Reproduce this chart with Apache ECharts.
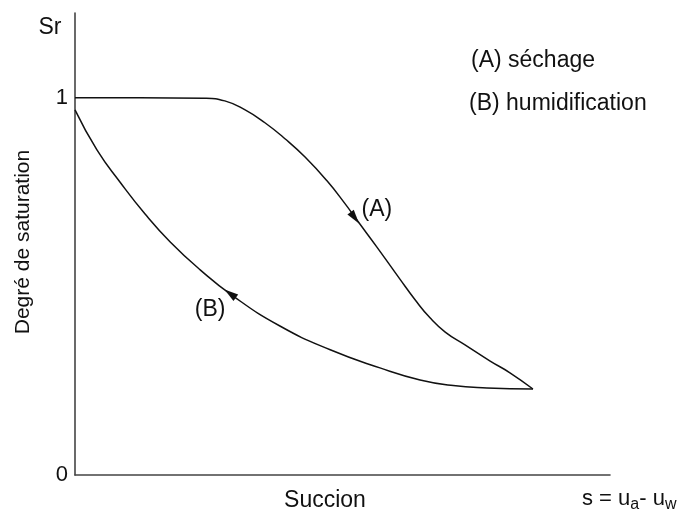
<!DOCTYPE html>
<html><head><meta charset="utf-8">
<script src="https://cdn.jsdelivr.net/npm/echarts@6/dist/echarts.min.js"></script>
<style>html,body{margin:0;padding:0;background:#fff}#c{width:683px;height:512px}</style>
</head><body><div id="c"></div>
<script>
// Curve (A) séchage (drying): suction (arbitrary units 0..10), degree of saturation
const dryS   = [0, 1.2, 2.43, 2.8, 3.18, 3.55, 3.93, 4.3, 4.71, 5.05, 5.27, 5.64, 6.07, 6.36, 6.64, 6.92, 7.29, 7.76, 8.13, 8.56];
const dryS_r = [1.0, 1.0, 0.999, 0.992, 0.968, 0.934, 0.891, 0.843, 0.780, 0.719, 0.676, 0.605, 0.520, 0.464, 0.416, 0.379, 0.345, 0.302, 0.271, 0.228];
// Curve (B) humidification (wetting)
const wetS  = [0, 0.41, 0.84, 1.31, 1.78, 2.34, 2.93, 3.83, 4.77, 5.7, 6.45, 7.07, 7.7, 8.56];
const wetSr = [0.968, 0.862, 0.777, 0.692, 0.618, 0.544, 0.477, 0.395, 0.332, 0.284, 0.252, 0.237, 0.231, 0.228];
// Arrow markers on each curve: [s, Sr]
const arrowA = [5.23, 0.682];
const arrowB = [2.90, 0.481];
const yTicks = [0, 1];
const xMax = 10, yMax = 1.225;

const FONT = '"Liberation Sans", Arial, Helvetica, sans-serif';
const chart = echarts.init(document.getElementById('c'));
const zip = (a, b) => a.map((v, i) => [v, b[i]]);
const lbl = (t, off) => ({show: true, formatter: t, position: 'inside', offset: off, fontSize: 23,
  color: '#111', opacity: 1, fontFamily: FONT, textBorderWidth: 0, textShadowBlur: 0});

chart.setOption({
  animation: false,
  grid: {left: 75, right: 73, top: 13, bottom: 37},
  xAxis: {
    type: 'value', min: 0, max: xMax,
    axisLine: {show: true, lineStyle: {color: '#444', width: 1.6}},
    axisTick: {show: false}, axisLabel: {show: false}, splitLine: {show: false}
  },
  yAxis: {
    type: 'value', min: 0, max: yMax, interval: 1,
    axisLine: {show: true, lineStyle: {color: '#444', width: 1.6}},
    axisTick: {show: false}, splitLine: {show: false},
    axisLabel: {
      margin: 7, fontSize: 22, color: '#111', fontFamily: FONT,
      showMaxLabel: false,
      formatter: v => (yTicks.indexOf(v) >= 0 ? String(v) : ''),
    }
  },
  series: [
    {type: 'line', smooth: 0.5, symbol: 'none', data: zip(dryS, dryS_r),
     lineStyle: {color: '#111', width: 1.5}},
    {type: 'line', smooth: 0.5, symbol: 'none', data: zip(wetS, wetSr),
     lineStyle: {color: '#111', width: 1.5}},
    {type: 'scatter', data: [arrowA], symbol: 'triangle', symbolSize: [8, 14], symbolRotate: -143,
     itemStyle: {color: '#111', opacity: 1}, label: lbl('(A)', [22, -8])},
    {type: 'scatter', data: [arrowB], symbol: 'triangle', symbolSize: [8, 14], symbolRotate: 54,
     itemStyle: {color: '#111', opacity: 1}, label: lbl('(B)', [-20, 16])}
  ],
  graphic: [
    {type: 'text', x: 50, y: 28, style: {text: 'Sr', fontSize: 23, fontFamily: FONT, fill: '#111', align: 'center', verticalAlign: 'middle'}},
    {type: 'text', x: 23, y: 242, rotation: Math.PI / 2, style: {text: 'Degré de saturation', fontSize: 21, fontFamily: FONT, fill: '#111', align: 'center', verticalAlign: 'middle'}},
    {type: 'text', x: 325, y: 501, style: {text: 'Succion', fontSize: 23, fontFamily: FONT, fill: '#111', align: 'center', verticalAlign: 'middle'}},
    {type: 'text', x: 582, y: 499, style: {
      text: '{n|s = u}{s|a}{n|- u}{s|w}', fontFamily: FONT, fill: '#111', align: 'left', verticalAlign: 'middle',
      rich: {n: {fontSize: 22, fontFamily: FONT, fill: '#111', color: '#111'},
             s: {fontSize: 16, fontFamily: FONT, fill: '#111', color: '#111', padding: [12, 0, 0, 0]}}
    }},
    {type: 'text', x: 471, y: 61, style: {text: '(A) séchage', fontSize: 23, fontFamily: FONT, fill: '#111', align: 'left', verticalAlign: 'middle'}},
    {type: 'text', x: 469, y: 104, style: {text: '(B) humidification', fontSize: 23, fontFamily: FONT, fill: '#111', align: 'left', verticalAlign: 'middle'}}
  ]
});
</script></body></html>
